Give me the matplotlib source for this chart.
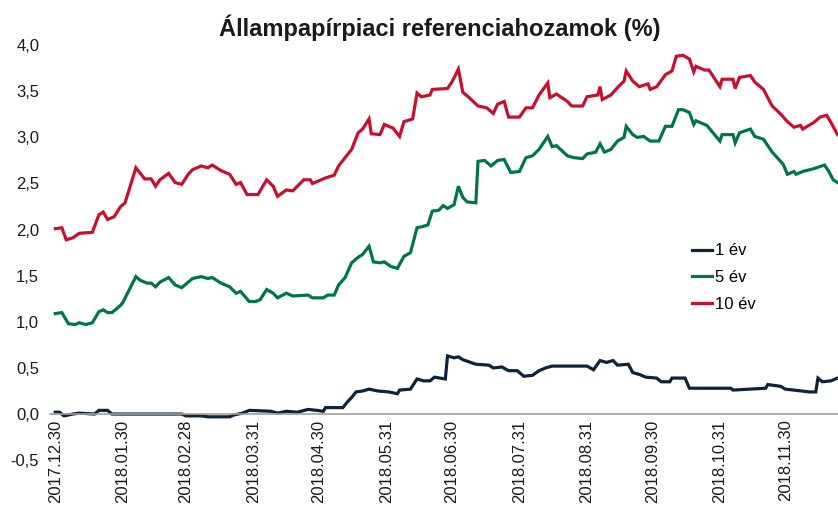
import pandas as pd
import matplotlib
matplotlib.use('Agg')
import matplotlib.pyplot as plt
from matplotlib.ticker import FuncFormatter

plt.rcParams['font.family'] = ['Liberation Sans', 'DejaVu Sans']

start = pd.Timestamp('2017-12-30')

# napok 2017.12.30-tol, hozamok (%) - leolvasva
days_1y = [0, 2, 4, 8, 11, 18, 20, 24, 26, 58, 60, 67, 70, 80, 82, 86, 89, 99, 102, 106,
           111, 116, 120, 123, 124, 132, 134, 136, 138, 141, 144, 148, 153, 157, 158, 163,
           166, 169, 172, 174, 179, 180, 183, 185, 187, 193, 199, 201, 205, 208, 212, 215,
           219, 222, 225, 228, 244, 247, 250, 253, 256, 258, 263, 265, 268, 271, 276, 278,
           282, 283, 289, 291, 310, 311, 326, 327, 333, 335, 339, 346, 349, 350, 352, 356, 359]
y_1y = [0.02, 0.02, -0.02, 0.00, 0.01, 0.00, 0.04, 0.04, 0.00, 0.00, -0.02, -0.02, -0.03,
        -0.03, -0.01, 0.01, 0.04, 0.03, 0.01, 0.03, 0.02, 0.05, 0.04, 0.03, 0.07, 0.07,
        0.13, 0.18, 0.24, 0.25, 0.27, 0.25, 0.24, 0.22, 0.26, 0.27, 0.38, 0.36, 0.36, 0.40,
        0.38, 0.63, 0.61, 0.62, 0.59, 0.54, 0.53, 0.50, 0.51, 0.47, 0.47, 0.41, 0.42, 0.47,
        0.50, 0.52, 0.52, 0.48, 0.58, 0.56, 0.58, 0.53, 0.54, 0.45, 0.43, 0.40, 0.39, 0.35,
        0.35, 0.39, 0.39, 0.28, 0.28, 0.26, 0.28, 0.32, 0.30, 0.27, 0.26, 0.24, 0.24, 0.39,
        0.35, 0.36, 0.39]

days_5y = [0, 3, 6, 9, 11, 14, 17, 20, 22, 24, 26, 30, 31, 37, 39, 42, 44, 46, 48, 52, 55,
           58, 61, 63, 67, 70, 72, 76, 80, 83, 85, 89, 92, 94, 97, 100, 102, 106, 109, 116,
           118, 123, 125, 128, 130, 133, 136, 139, 141, 144, 146, 149, 151, 154, 157, 160,
           163, 166, 168, 171, 173, 176, 178, 180, 183, 185, 187, 189, 193, 194, 197, 200,
           203, 206, 209, 213, 216, 219, 222, 226, 228, 230, 235, 238, 242, 244, 248, 250,
           252, 255, 258, 261, 262, 265, 267, 270, 273, 277, 280, 283, 286, 288, 291, 293,
           294, 299, 305, 306, 311, 312, 314, 319, 321, 325, 329, 334, 336, 339, 340, 343,
           348, 353, 355, 357, 359]
y_5y = [1.09, 1.10, 0.98, 0.97, 0.99, 0.97, 0.99, 1.11, 1.13, 1.10, 1.10, 1.18, 1.21, 1.49,
        1.45, 1.42, 1.42, 1.38, 1.43, 1.48, 1.40, 1.37, 1.43, 1.47, 1.49, 1.47, 1.48, 1.42,
        1.38, 1.31, 1.33, 1.22, 1.22, 1.24, 1.35, 1.31, 1.26, 1.31, 1.28, 1.29, 1.26, 1.26,
        1.29, 1.29, 1.40, 1.48, 1.64, 1.70, 1.73, 1.82, 1.65, 1.64, 1.65, 1.60, 1.58, 1.71,
        1.75, 2.02, 2.03, 2.05, 2.20, 2.21, 2.26, 2.23, 2.27, 2.47, 2.35, 2.30, 2.29, 2.74,
        2.75, 2.69, 2.75, 2.76, 2.62, 2.63, 2.78, 2.80, 2.87, 3.01, 2.90, 2.91, 2.80, 2.78,
        2.77, 2.82, 2.84, 2.93, 2.84, 2.87, 2.96, 3.00, 3.12, 3.03, 3.00, 3.01, 2.96, 2.96,
        3.12, 3.12, 3.30, 3.30, 3.27, 3.14, 3.18, 3.13, 2.96, 3.03, 3.03, 2.94, 3.05, 3.09,
        3.01, 2.98, 2.84, 2.71, 2.60, 2.63, 2.60, 2.63, 2.66, 2.70, 2.63, 2.54, 2.51]

days_10y = [0, 3, 5, 8, 11, 17, 20, 22, 24, 27, 30, 32, 37, 41, 44, 46, 48, 52, 55, 58, 61,
            63, 67, 70, 72, 76, 80, 83, 85, 88, 93, 97, 100, 102, 106, 109, 114, 117, 118,
            124, 128, 130, 134, 136, 139, 141, 144, 145, 149, 151, 155, 158, 160, 164, 166,
            168, 172, 173, 180, 182, 185, 187, 190, 194, 198, 201, 203, 206, 208, 213, 216,
            219, 222, 226, 227, 230, 235, 237, 242, 244, 249, 250, 251, 255, 258, 261, 262,
            265, 268, 272, 273, 276, 280, 283, 285, 288, 291, 293, 294, 298, 300, 305, 306,
            311, 312, 314, 319, 321, 325, 329, 333, 336, 339, 342, 343, 348, 351, 354, 356, 359]
y_10y = [2.01, 2.02, 1.89, 1.91, 1.96, 1.97, 2.16, 2.19, 2.11, 2.14, 2.25, 2.29, 2.67, 2.55,
         2.55, 2.47, 2.54, 2.61, 2.51, 2.49, 2.60, 2.65, 2.69, 2.67, 2.70, 2.64, 2.60, 2.49,
         2.51, 2.38, 2.38, 2.54, 2.47, 2.36, 2.43, 2.42, 2.54, 2.54, 2.50, 2.56, 2.59, 2.69,
         2.81, 2.87, 3.05, 3.09, 3.20, 3.04, 3.03, 3.14, 3.10, 3.01, 3.17, 3.20, 3.48, 3.44,
         3.46, 3.52, 3.53, 3.60, 3.74, 3.49, 3.43, 3.34, 3.32, 3.26, 3.36, 3.39, 3.22, 3.22,
         3.32, 3.32, 3.46, 3.59, 3.43, 3.47, 3.39, 3.34, 3.34, 3.44, 3.46, 3.55, 3.41, 3.46,
         3.54, 3.61, 3.72, 3.61, 3.55, 3.58, 3.52, 3.55, 3.68, 3.72, 3.88, 3.89, 3.85, 3.71,
         3.77, 3.73, 3.73, 3.55, 3.63, 3.63, 3.53, 3.65, 3.67, 3.60, 3.52, 3.34, 3.25, 3.17,
         3.11, 3.13, 3.09, 3.16, 3.22, 3.24, 3.16, 3.03]

tick_dates = ['2017-12-30', '2018-01-30', '2018-02-28', '2018-03-31', '2018-04-30',
              '2018-05-31', '2018-06-30', '2018-07-31', '2018-08-31', '2018-09-30',
              '2018-10-31', '2018-11-30']
tick_labels = ['2017.12.30', '2018.01.30', '2018.02.28', '2018.03.31', '2018.04.30',
               '2018.05.31', '2018.06.30', '2018.07.31', '2018.08.31', '2018.09.30',
               '2018.10.31', '2018.11.30']
labels = ['1 év', '5 év', '10 év']
colors = ['#0e2238', '#00754a', '#c8102e']

fig = plt.figure(figsize=[8.38, 5.13], dpi=100)
ax = fig.add_axes([0.060, 0.103, 0.940, 0.809])

series = [(days_1y, y_1y), (days_5y, y_5y), (days_10y, y_10y)]
for (d, y), lab, c in zip(series, labels, colors):
    x = start + pd.to_timedelta(d, unit='D')
    ax.plot(x, y, color=c, linewidth=2.3, label=lab, solid_joinstyle='miter')

ax.set_ylim(-0.5, 4.0)
ax.set_yticks([-0.5, 0, 0.5, 1.0, 1.5, 2.0, 2.5, 3.0, 3.5, 4.0])
ax.yaxis.set_major_formatter(FuncFormatter(lambda v, p: ('%.1f' % v).replace('.', ',')))
ax.set_xlim(start - pd.Timedelta(days=2.3), start + pd.Timedelta(days=359.2))
ax.set_xticks(pd.to_datetime(tick_dates))
ax.set_xticklabels(tick_labels)

for s in ['top', 'right', 'left']:
    ax.spines[s].set_visible(False)
ax.spines['bottom'].set_position(('data', 0))
ax.spines['bottom'].set_color('#a0a0a0')
ax.spines['bottom'].set_linewidth(1.2)
ax.tick_params(axis='both', length=0, labelsize=12, colors='#1a1a1a')
ax.tick_params(axis='x', pad=4, labelrotation=90)
ax.tick_params(axis='y', pad=8)

fig.text(0.525, 0.945, 'Állampapírpiaci referenciahozamok (%)', ha='center', va='center',
         fontsize=17, fontweight='bold', color='#1a1a1a')

ax.legend(loc='center left', bbox_to_anchor=(0.826, 0.459), bbox_transform=fig.transFigure,
          frameon=False, fontsize=12, handlelength=1.2, handletextpad=0.15,
          labelspacing=0.7, borderpad=0, borderaxespad=0)

fig.savefig('out.png', dpi=100)
